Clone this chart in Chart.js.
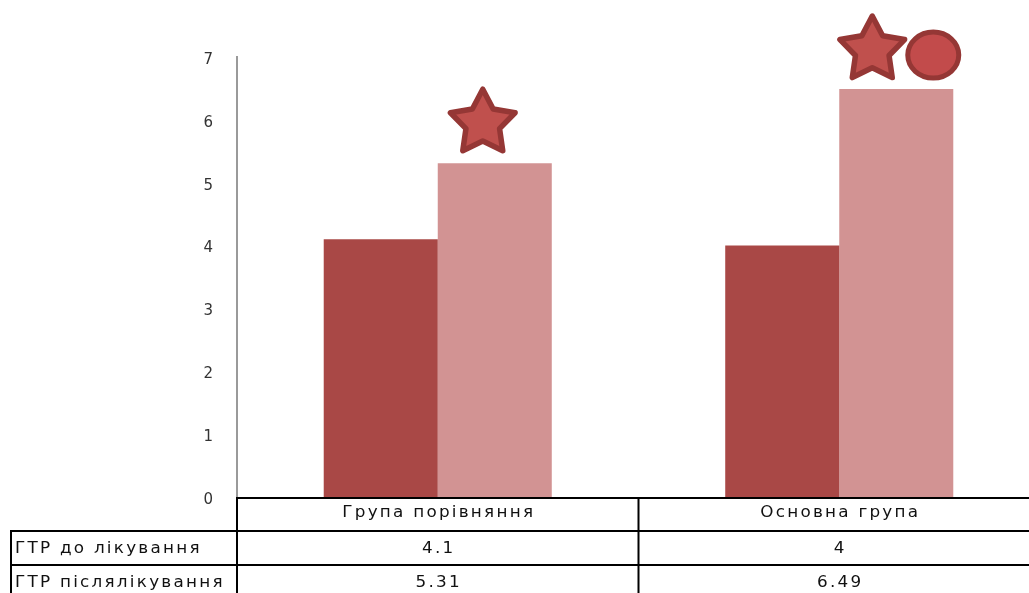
<!DOCTYPE html>
<html>
<head>
<meta charset="utf-8">
<script src="https://cdn.jsdelivr.net/npm/chart.js@4/dist/chart.umd.min.js"></script>
<style>
  html, body { margin: 0; padding: 0; background: #fff; overflow: hidden; }
  #wrap { width: 1040px; height: 593px; }
</style>
</head>
<body>
<div id="wrap"><canvas id="gtrChart" width="1040" height="593"></canvas></div>
<script>
// Data
const categories = ['Група порівняння', 'Основна група'];
const seriesNames = ['ГТР до лікування', 'ГТР післялікування'];
const beforeValues = [4.1, 4];
const afterValues = [5.31, 6.49];
const yTicks = [0, 1, 2, 3, 4, 5, 6, 7];
// significance marks above the "after" bars
const marks = [['star'], ['star', 'circle']];

const darkRed = '#A94846';
const lightRed = '#D29393';
const tableFont = '15px "DejaVu Sans", sans-serif';
const stretch = 1.12;

function drawStar(ctx, cx, cy, r)
{
    const inner = r * 0.52;
    ctx.beginPath();
    for (let i = 0; i < 10; i++) {
        const rad = i % 2 === 0 ? r : inner;
        const a = -Math.PI / 2 + i * Math.PI / 5;
        const px = cx + rad * Math.cos(a);
        const py = cy + rad * Math.sin(a);
        if (i === 0) ctx.moveTo(px, py); else ctx.lineTo(px, py);
    }
    ctx.closePath();
    ctx.fillStyle = '#C0504D';
    ctx.fill();
    ctx.lineJoin = 'round';
    ctx.lineWidth = 5.5;
    ctx.strokeStyle = '#953735';
    ctx.stroke();
}

function drawCircle(ctx, cx, cy)
{
    ctx.beginPath();
    ctx.ellipse(cx, cy, 25.5, 23, 0, 0, Math.PI * 2);
    ctx.fillStyle = '#C24B4B';
    ctx.fill();
    ctx.lineWidth = 5;
    ctx.strokeStyle = '#953735';
    ctx.stroke();
}

// text stretched horizontally like the original table
function wideText(ctx, text, x, y, align)
{
    ctx.save();
    ctx.translate(x, y);
    ctx.scale(stretch, 1);
    ctx.textAlign = align;
    ctx.fillText(text, 0, 0);
    ctx.restore();
}

const marksPlugin = {
    id: 'marks',
    afterDatasetsDraw(chart)
    {
        const ctx = chart.ctx;
        const bars = chart.getDatasetMeta(1).data;
        ctx.save();
        marks.forEach((list, i) => {
            const bar = bars[i];
            if (list.length === 1) {
                drawStar(ctx, bar.x - 12, bar.y - 40, 34);
            } else {
                drawStar(ctx, bar.x - 24, bar.y - 39, 34);
                drawCircle(ctx, bar.x + 37, bar.y - 34);
            }
        });
        ctx.restore();
    }
};

const tablePlugin = {
    id: 'dataTable',
    afterDraw(chart)
    {
        const ctx = chart.ctx;
        const area = chart.chartArea;
        const x = chart.scales.x;
        const rowH = 34;
        const top = area.bottom;
        const colW = x.getPixelForValue(1) - x.getPixelForValue(0);
        const left = area.left;
        const right = area.right;
        const tableLeft = 10;
        ctx.save();
        ctx.strokeStyle = '#000';
        ctx.lineWidth = 2;
        ctx.beginPath();
        // header row
        ctx.moveTo(left, top + 1); ctx.lineTo(right, top + 1);
        for (let r = 1; r <= 2; r++) {
            ctx.moveTo(tableLeft, top + r * rowH); ctx.lineTo(right, top + r * rowH);
        }
        ctx.moveTo(tableLeft + 1, top + rowH); ctx.lineTo(tableLeft + 1, chart.height);
        for (let c = 0; c <= categories.length; c++) {
            const cx = left + c * colW;
            ctx.moveTo(cx, top); ctx.lineTo(cx, chart.height);
        }
        ctx.stroke();

        ctx.fillStyle = '#111';
        ctx.font = tableFont;
        ctx.letterSpacing = '2px';
        ctx.textBaseline = 'middle';
        categories.forEach((c, i) => {
            wideText(ctx, c, x.getPixelForValue(i) + 1, top + rowH / 2 - 1, 'center');
        });
        [beforeValues, afterValues].forEach((vals, r) => {
            const cy = top + rowH * (r + 1) + rowH / 2 + 1;
            wideText(ctx, seriesNames[r], tableLeft + 5, cy, 'left');
            vals.forEach((v, i) => wideText(ctx, String(v), x.getPixelForValue(i) + 1, cy, 'center'));
        });
        ctx.restore();
    }
};

const ctx = document.getElementById('gtrChart').getContext('2d');
new Chart(ctx, {
    type: 'bar',
    data: {
        labels: categories,
        datasets: [
            { label: seriesNames[0], data: beforeValues, backgroundColor: darkRed },
            { label: seriesNames[1], data: afterValues, backgroundColor: lightRed }
        ]
    },
    options: {
        responsive: false,
        animation: false,
        events: [],
        layout: { padding: { top: 57, bottom: 96, left: 0, right: 0 } },
        datasets: { bar: { categoryPercentage: 0.568, barPercentage: 1 } },
        plugins: { legend: { display: false }, tooltip: { enabled: false } },
        scales: {
            x: { display: false },
            y: {
                min: 0,
                max: 7,
                afterBuildTicks(scale) { scale.ticks = yTicks.map(v => ({ value: v })); },
                afterFit(scale) { scale.width = 237; },
                grid: { display: false, drawTicks: false },
                border: { display: true, color: '#9a9a9a', width: 2 },
                ticks: {
                    padding: 24,
                    labelOffset: 3,
                    color: '#333',
                    font: { family: '"DejaVu Sans", sans-serif', size: 15 }
                }
            }
        }
    },
    plugins: [marksPlugin, tablePlugin]
});
</script>
</body>
</html>
